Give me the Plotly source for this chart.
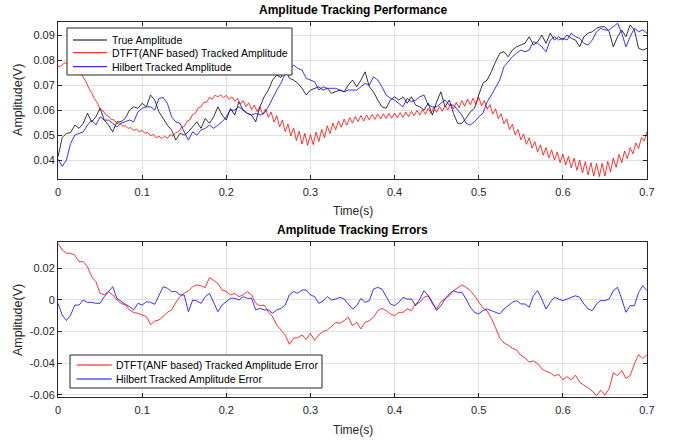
import numpy as np
import plotly.graph_objects as go

# ---------------- data ----------------
t_step = 0.005
t_step_dtft = 1.0 / 300.0

true_amp = [
    0.0413, 0.0490, 0.0507, 0.0510, 0.0540, 0.0527, 0.0547, 0.0587, 0.0553, 0.0573,
    0.0607, 0.0560, 0.0540, 0.0513, 0.0553, 0.0553, 0.0567, 0.0600, 0.0613, 0.0607,
    0.0627, 0.0613, 0.0660, 0.0640, 0.0593, 0.0567, 0.0540, 0.0520, 0.0480, 0.0507,
    0.0500, 0.0513, 0.0533, 0.0553, 0.0527, 0.0567, 0.0547, 0.0573, 0.0613, 0.0580,
    0.0560, 0.0607, 0.0580, 0.0633, 0.0600, 0.0587, 0.0580, 0.0553, 0.0613, 0.0653,
    0.0680, 0.0720, 0.0740, 0.0730, 0.0767, 0.0727, 0.0720, 0.0707, 0.0687, 0.0660,
    0.0680, 0.0687, 0.0693, 0.0680, 0.0687, 0.0667, 0.0675, 0.0680, 0.0673, 0.0700,
    0.0720, 0.0693, 0.0720, 0.0753, 0.0693, 0.0673, 0.0640, 0.0613, 0.0607, 0.0640,
    0.0653, 0.0640, 0.0653, 0.0627, 0.0653, 0.0620, 0.0613, 0.0600, 0.0627, 0.0580,
    0.0633, 0.0673, 0.0613, 0.0640, 0.0587, 0.0547, 0.0547, 0.0567, 0.0593, 0.0607,
    0.0660, 0.0707, 0.0720, 0.0753, 0.0793, 0.0827, 0.0833, 0.0813, 0.0840, 0.0853,
    0.0860, 0.0867, 0.0893, 0.0860, 0.0873, 0.0900, 0.0867, 0.0907, 0.0880, 0.0893,
    0.0880, 0.0900, 0.0887, 0.0880, 0.0853, 0.0893, 0.0907, 0.0913, 0.0927, 0.0933,
    0.0933, 0.0913, 0.0853, 0.0893, 0.0920, 0.0893, 0.0940, 0.0920, 0.0847, 0.0840,
    0.0847,
]

hilbert_amp = [
    0.0404, 0.0375, 0.0400, 0.0467, 0.0500, 0.0507, 0.0513, 0.0540, 0.0560, 0.0540,
    0.0573, 0.0560, 0.0560, 0.0547, 0.0533, 0.0547, 0.0553, 0.0560, 0.0553, 0.0593,
    0.0607, 0.0613, 0.0613, 0.0600, 0.0647, 0.0650, 0.0627, 0.0573, 0.0553, 0.0547,
    0.0513, 0.0480, 0.0513, 0.0500, 0.0520, 0.0527, 0.0540, 0.0527, 0.0540, 0.0553,
    0.0573, 0.0600, 0.0600, 0.0613, 0.0600, 0.0587, 0.0580, 0.0587, 0.0580, 0.0587,
    0.0613, 0.0647, 0.0680, 0.0707, 0.0747, 0.0760, 0.0780, 0.0767, 0.0760, 0.0727,
    0.0720, 0.0713, 0.0680, 0.0693, 0.0687, 0.0687, 0.0687, 0.0680, 0.0673, 0.0680,
    0.0680, 0.0680, 0.0693, 0.0707, 0.0700, 0.0733, 0.0720, 0.0693, 0.0660, 0.0647,
    0.0640, 0.0627, 0.0613, 0.0647, 0.0633, 0.0640, 0.0653, 0.0660, 0.0620, 0.0613,
    0.0613, 0.0627, 0.0640, 0.0620, 0.0620, 0.0600, 0.0580, 0.0547, 0.0540, 0.0553,
    0.0573, 0.0587, 0.0633, 0.0660, 0.0693, 0.0720, 0.0773, 0.0793, 0.0813, 0.0827,
    0.0840, 0.0833, 0.0840, 0.0873, 0.0867, 0.0853, 0.0833, 0.0880, 0.0893, 0.0880,
    0.0887, 0.0880, 0.0907, 0.0893, 0.0887, 0.0867, 0.0860, 0.0880, 0.0913, 0.0927,
    0.0920, 0.0920, 0.0933, 0.0947, 0.0907, 0.0853, 0.0893, 0.0927, 0.0913, 0.0920,
    0.0907,
]

dtft_amp = [
    0.0774, 0.0776, 0.0787, 0.0787, 0.0790, 0.0780,
    0.0783, 0.0761, 0.0751, 0.0731, 0.0713, 0.0687,
    0.0669, 0.0645, 0.0629, 0.0605, 0.0598, 0.0581,
    0.0576, 0.0562, 0.0561, 0.0547, 0.0548, 0.0536,
    0.0537, 0.0527, 0.0530, 0.0518, 0.0524, 0.0513,
    0.0519, 0.0507, 0.0511, 0.0497, 0.0503, 0.0489,
    0.0495, 0.0486, 0.0496, 0.0487, 0.0502, 0.0496,
    0.0510, 0.0513, 0.0531, 0.0534, 0.0555, 0.0561,
    0.0582, 0.0587, 0.0609, 0.0614, 0.0631, 0.0631,
    0.0650, 0.0644, 0.0659, 0.0653, 0.0661, 0.0649,
    0.0659, 0.0643, 0.0653, 0.0635, 0.0647, 0.0624,
    0.0638, 0.0613, 0.0629, 0.0602, 0.0620, 0.0594,
    0.0614, 0.0583, 0.0604, 0.0571, 0.0592, 0.0552,
    0.0577, 0.0533, 0.0560, 0.0514, 0.0544, 0.0496,
    0.0528, 0.0478, 0.0516, 0.0464, 0.0507, 0.0459,
    0.0502, 0.0462, 0.0512, 0.0474, 0.0523, 0.0490,
    0.0537, 0.0506, 0.0548, 0.0521, 0.0556, 0.0531,
    0.0564, 0.0540, 0.0570, 0.0548, 0.0574, 0.0554,
    0.0578, 0.0557, 0.0580, 0.0561, 0.0582, 0.0563,
    0.0584, 0.0565, 0.0585, 0.0566, 0.0587, 0.0567,
    0.0588, 0.0569, 0.0590, 0.0571, 0.0592, 0.0574,
    0.0595, 0.0577, 0.0598, 0.0580, 0.0602, 0.0583,
    0.0607, 0.0587, 0.0611, 0.0591, 0.0615, 0.0595,
    0.0619, 0.0600, 0.0625, 0.0604, 0.0631, 0.0609,
    0.0638, 0.0615, 0.0644, 0.0621, 0.0648, 0.0623,
    0.0652, 0.0617, 0.0638, 0.0603, 0.0622, 0.0584,
    0.0605, 0.0565, 0.0585, 0.0545, 0.0564, 0.0522,
    0.0543, 0.0501, 0.0523, 0.0481, 0.0505, 0.0463,
    0.0489, 0.0448, 0.0474, 0.0433, 0.0461, 0.0420,
    0.0450, 0.0409, 0.0441, 0.0400, 0.0432, 0.0390,
    0.0424, 0.0380, 0.0415, 0.0369, 0.0408, 0.0359,
    0.0400, 0.0349, 0.0394, 0.0341, 0.0390, 0.0336,
    0.0387, 0.0334, 0.0387, 0.0336, 0.0395, 0.0353,
    0.0408, 0.0371, 0.0423, 0.0390, 0.0436, 0.0406,
    0.0450, 0.0425, 0.0469, 0.0446, 0.0490, 0.0476,
    0.0514,
]

dtft_err = [
    0.0358, 0.0316, 0.0295, 0.0295, 0.0284, 0.0242, 0.0242, 0.0210, 0.0147, 0.0116,
    0.0042, 0.0032, 0.0053, 0.0032, 0.0000, -0.0021, -0.0032, -0.0063, -0.0080, -0.0084,
    -0.0095, -0.0105, -0.0155, -0.0133, -0.0126, -0.0105, -0.0078, -0.0063, -0.0015, 0.0021,
    0.0042, 0.0057, 0.0084, 0.0095, 0.0090, 0.0078, 0.0142, 0.0126, 0.0105, 0.0063,
    0.0053, 0.0032, 0.0042, 0.0021, 0.0032, 0.0053, 0.0032, -0.0021, -0.0036, -0.0032,
    -0.0074, -0.0105, -0.0158, -0.0190, -0.0221, -0.0280, -0.0242, -0.0238, -0.0221, -0.0250,
    -0.0211, -0.0255, -0.0221, -0.0200, -0.0190, -0.0168, -0.0141, -0.0147, -0.0131, -0.0109,
    -0.0162, -0.0141, -0.0183, -0.0141, -0.0131, -0.0109, -0.0067, -0.0053, -0.0067, -0.0088,
    -0.0099, -0.0078, -0.0078, -0.0057, -0.0067, -0.0025, -0.0015, 0.0017, 0.0027, -0.0025,
    -0.0057, -0.0011, 0.0006, 0.0027, 0.0059, 0.0080, 0.0095, 0.0080, 0.0059, 0.0027,
    -0.0015, -0.0050, -0.0070, -0.0115, -0.0175, -0.0240, -0.0272, -0.0285, -0.0305, -0.0315,
    -0.0350, -0.0365, -0.0392, -0.0385, -0.0402, -0.0435, -0.0450, -0.0460, -0.0480, -0.0470,
    -0.0505, -0.0485, -0.0505, -0.0475, -0.0520, -0.0535, -0.0555, -0.0575, -0.0605, -0.0570,
    -0.0600, -0.0562, -0.0460, -0.0478, -0.0446, -0.0495, -0.0478, -0.0404, -0.0345, -0.0370,
    -0.0345,
]

hilbert_err = [
    -0.0021, -0.0095, -0.0130, -0.0095, -0.0032, -0.0032, 0.0000, -0.0015, -0.0015, -0.0021,
    -0.0021, 0.0021, 0.0053, 0.0084, 0.0011, -0.0011, -0.0027, -0.0042, -0.0063, -0.0021,
    -0.0032, -0.0011, -0.0015, -0.0027, 0.0032, 0.0084, 0.0074, 0.0053, 0.0053, 0.0032,
    0.0032, -0.0074, 0.0000, -0.0006, -0.0021, 0.0021, 0.0042, -0.0011, -0.0074, -0.0032,
    -0.0011, 0.0011, 0.0011, 0.0000, 0.0021, 0.0011, 0.0011, -0.0063, -0.0053, -0.0063,
    -0.0063, -0.0084, -0.0063, -0.0053, -0.0032, 0.0032, 0.0053, 0.0042, 0.0063, 0.0063,
    0.0032, 0.0021, -0.0021, -0.0006, 0.0021, 0.0000, 0.0006, 0.0017, 0.0006, -0.0025,
    -0.0057, -0.0036, 0.0010, -0.0015, -0.0004, 0.0069, 0.0080, 0.0069, 0.0017, -0.0025,
    -0.0036, -0.0015, 0.0017, 0.0006, 0.0006, -0.0036, 0.0006, 0.0059, 0.0027, -0.0015,
    -0.0067, -0.0036, 0.0006, 0.0038, 0.0059, 0.0048, 0.0048, 0.0006, -0.0046, -0.0078,
    -0.0088, -0.0067, -0.0057, -0.0067, -0.0078, -0.0088, -0.0057, -0.0036, -0.0015, -0.0004,
    -0.0025, -0.0025, -0.0046, 0.0027, 0.0059, 0.0006, -0.0057, -0.0015, 0.0017, 0.0006,
    -0.0004, 0.0006, 0.0017, 0.0027, 0.0017, -0.0025, -0.0057, -0.0067, -0.0025, -0.0004,
    -0.0004, 0.0006, 0.0059, 0.0080, 0.0006, -0.0078, -0.0036, -0.0036, 0.0048, 0.0090,
    0.0059,
]

x_ticks = [0, 0.1, 0.2, 0.3, 0.4, 0.5, 0.6, 0.7]
x_tick_labels = ["0", "0.1", "0.2", "0.3", "0.4", "0.5", "0.6", "0.7"]
y1_ticks = [0.04, 0.05, 0.06, 0.07, 0.08, 0.09]
y1_tick_labels = ["0.04", "0.05", "0.06", "0.07", "0.08", "0.09"]
y2_ticks = [-0.06, -0.04, -0.02, 0, 0.02]
y2_tick_labels = ["-0.06", "-0.04", "-0.02", "0", "0.02"]

top_names = ["True Amplitude", "DTFT(ANF based) Tracked Amplitude", "Hilbert Tracked Amplitude"]
bottom_names = ["DTFT(ANF based) Tracked Amplitude Error", "Hilbert Tracked Amplitude Error"]

# ---------------- figure ----------------
t = np.arange(len(true_amp)) * t_step
t_d = np.arange(len(dtft_amp)) * t_step_dtft
t_e = np.arange(len(dtft_err)) * t_step

FONT = "Liberation Sans, Arial, Helvetica, sans-serif"
AX = "#262626"
GRID = "#e0e0e0"
BLACK, RED, BLUE = "#000000", "#ff0000", "#0000ff"
LW = 0.8

fig = go.Figure()
fig.add_trace(go.Scatter(x=t, y=true_amp, mode="lines", name=top_names[0],
                         line=dict(color=BLACK, width=LW), xaxis="x", yaxis="y"))
fig.add_trace(go.Scatter(x=t_d, y=dtft_amp, mode="lines", name=top_names[1],
                         line=dict(color=RED, width=LW), xaxis="x", yaxis="y"))
fig.add_trace(go.Scatter(x=t, y=hilbert_amp, mode="lines", name=top_names[2],
                         line=dict(color=BLUE, width=LW), xaxis="x", yaxis="y"))
fig.add_trace(go.Scatter(x=t_e, y=dtft_err, mode="lines", name=bottom_names[0],
                         line=dict(color=RED, width=LW), xaxis="x2", yaxis="y2"))
fig.add_trace(go.Scatter(x=t_e, y=hilbert_err, mode="lines", name=bottom_names[1],
                         line=dict(color=BLUE, width=LW), xaxis="x2", yaxis="y2"))

axis_common = dict(showgrid=True, gridcolor=GRID, gridwidth=1, zeroline=False,
                   showline=True, linecolor=AX, linewidth=1, mirror="ticks",
                   ticks="inside", ticklen=4, tickcolor=AX,
                   tickfont=dict(family=FONT, size=11, color=AX))

fig.update_layout(
    width=673, height=440,
    margin=dict(l=58, r=26, t=22, b=43),
    paper_bgcolor="white", plot_bgcolor="white",
    font=dict(family=FONT, color=AX),
    showlegend=False,
    xaxis=dict(domain=[0, 1], range=[0, 0.7], tickvals=x_ticks, ticktext=x_tick_labels,
               anchor="y", ticklabelstandoff=3, **axis_common),
    yaxis=dict(domain=[0.581, 1], range=[0.0324, 0.0952], tickvals=y1_ticks,
               ticktext=y1_tick_labels, anchor="x", **axis_common),
    xaxis2=dict(domain=[0, 1], range=[0, 0.7], tickvals=x_ticks, ticktext=x_tick_labels,
                anchor="y2", ticklabelstandoff=3, **axis_common),
    yaxis2=dict(domain=[0, 0.414], range=[-0.0613, 0.0368], tickvals=y2_ticks,
                ticktext=y2_tick_labels, anchor="x2", **axis_common),
)

# ---- MATLAB-style legend boxes (drawn in paper coordinates) ----
shapes = []
annotations = []


def add_legend(box, rows_y, line_x, text_x, names, colors):
    x0, x1, y0, y1 = box
    shapes.append(dict(type="rect", xref="paper", yref="paper", x0=x0, x1=x1, y0=y0, y1=y1,
                       fillcolor="white", line=dict(color=AX, width=1), layer="above"))
    for ry, name, col in zip(rows_y, names, colors):
        shapes.append(dict(type="line", xref="paper", yref="paper", x0=line_x[0],
                           x1=line_x[1], y0=ry, y1=ry, line=dict(color=col, width=1),
                           layer="above"))
        annotations.append(dict(text=name, x=text_x, y=ry, xref="paper", yref="paper",
                                showarrow=False, xanchor="left", yanchor="middle",
                                font=dict(family=FONT, size=10.5, color="#000000")))


add_legend((0.0153, 0.3973, 0.8587, 0.984), [0.952, 0.9181, 0.8808], (0.0255, 0.0832),
           0.0885, top_names, [BLACK, RED, BLUE])
add_legend((0.0204, 0.4482, 0.024, 0.112), [0.0853, 0.048], (0.0317, 0.0912),
           0.0953, bottom_names, [RED, BLUE])

annotations += [
    dict(text="<b>Amplitude Tracking Performance</b>", x=0.5, y=1.032, xref="paper",
         yref="paper", showarrow=False, xanchor="center", yanchor="middle",
         font=dict(family=FONT, size=12, color="#000000")),
    dict(text="<b>Amplitude Tracking Errors</b>", x=0.5, y=0.445, xref="paper",
         yref="paper", showarrow=False, xanchor="center", yanchor="middle",
         font=dict(family=FONT, size=12, color="#000000")),
    dict(text="Time(s)", x=0.5, y=0.496, xref="paper", yref="paper", showarrow=False,
         xanchor="center", yanchor="middle", font=dict(family=FONT, size=12, color=AX)),
    dict(text="Time(s)", x=0.5, y=-0.088, xref="paper", yref="paper", showarrow=False,
         xanchor="center", yanchor="middle", font=dict(family=FONT, size=12, color=AX)),
    dict(text="Amplitude(V)", x=-0.068, y=0.792, xref="paper", yref="paper",
         showarrow=False, textangle=-90, xanchor="center", yanchor="middle",
         font=dict(family=FONT, size=12.5, color=AX)),
    dict(text="Amplitude(V)", x=-0.068, y=0.205, xref="paper", yref="paper",
         showarrow=False, textangle=-90, xanchor="center", yanchor="middle",
         font=dict(family=FONT, size=12.5, color=AX)),
]
fig.update_layout(shapes=shapes, annotations=annotations)

fig.write_html("out.html")
